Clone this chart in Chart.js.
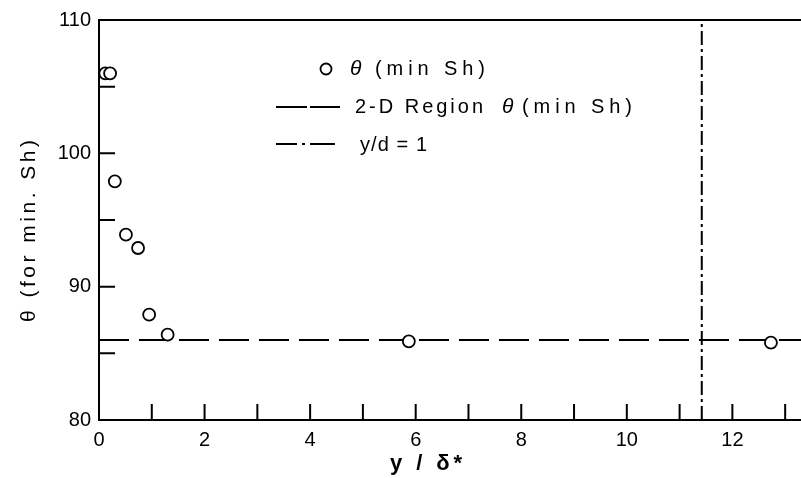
<!DOCTYPE html>
<html>
<head>
<meta charset="utf-8">
<script src="https://cdn.jsdelivr.net/npm/chart.js@4.4.1/dist/chart.umd.min.js"></script>
<style>
html, body { margin: 0; padding: 0; background: #fff; }
#wrap { width: 801px; height: 478px; }
</style>
</head>
<body>
<div id="wrap"><canvas id="theta-chart"></canvas></div>
<script>
// measured points: theta at minimum Sherwood number vs y/delta*
var pointX = [0.12, 0.21, 0.30, 0.51, 0.74, 0.95, 1.30, 5.87, 12.73];
var pointY = [106.0, 106.0, 97.9, 93.9, 92.9, 87.9, 86.4, 85.9, 85.8];

// 2-D region value and the y/d = 1 position
var region2dX = [0, 13.3];
var region2dY = [86, 86];
var ydOneX = [11.42, 11.42];
var ydOneY = [80, 110];

var xTickValues = [0, 1, 2, 3, 4, 5, 6, 7, 8, 9, 10, 11, 12, 13];
var yTickValues = [80, 85, 90, 95, 100, 105, 110];

var FONT = '"Liberation Sans", Arial, sans-serif';

function fitText(ctx, text, x, y, width) {
    ctx.letterSpacing = '0px';
    var w = ctx.measureText(text).width;
    var n = text.length > 1 ? text.length - 1 : 1;
    ctx.letterSpacing = ((width - w) / n) + 'px';
    ctx.fillText(text, x, y);
    ctx.letterSpacing = '0px';
}

var frame = {
    id: 'frame',
    afterDraw(chart) {
        var ctx = chart.ctx;
        var area = chart.chartArea;
        var xs = chart.scales.x, ys = chart.scales.y;
        ctx.save();
        ctx.strokeStyle = '#000';
        ctx.lineWidth = 2;
        ctx.setLineDash([]);

        // top border
        ctx.beginPath();
        ctx.moveTo(area.left, area.top);
        ctx.lineTo(chart.width, area.top);
        ctx.stroke();

        // inward tick marks
        ctx.beginPath();
        ys.ticks.forEach(t => {
            var p = ys.getPixelForValue(t.value);
            ctx.moveTo(area.left, p);
            ctx.lineTo(area.left + 16, p);
        });
        xs.ticks.forEach(t => {
            var p = xs.getPixelForValue(t.value);
            ctx.moveTo(p, area.bottom);
            ctx.lineTo(p, area.bottom - 16);
        });
        ctx.stroke();

        // axis titles
        ctx.fillStyle = '#000';
        ctx.textBaseline = 'middle';
        ctx.textAlign = 'left';
        ctx.font = 'bold 22px ' + FONT;
        fitText(ctx, 'y / δ*', 390, 464, 72);

        ctx.save();
        ctx.translate(29, 231);
        ctx.rotate(-Math.PI / 2);
        ctx.font = '21px ' + FONT;
        fitText(ctx, 'θ (for min. Sh)', -91, 0, 182);
        ctx.restore();

        // legend
        ctx.lineWidth = 1.8;
        ctx.beginPath();
        ctx.arc(326, 69, 5.5, 0, Math.PI * 2);
        ctx.stroke();
        ctx.font = 'italic 21px ' + FONT;
        ctx.fillText('θ', 350, 69);
        ctx.font = '20px ' + FONT;
        fitText(ctx, '(min Sh)', 375, 69, 110);

        ctx.lineWidth = 2;
        ctx.beginPath();
        ctx.moveTo(276, 107); ctx.lineTo(307, 107);
        ctx.moveTo(310, 107); ctx.lineTo(340, 107);
        ctx.stroke();
        ctx.font = '20px ' + FONT;
        fitText(ctx, '2-D Region', 355, 107, 128);
        ctx.font = 'italic 21px ' + FONT;
        ctx.fillText('θ', 502, 107);
        ctx.font = '20px ' + FONT;
        fitText(ctx, '(min Sh)', 522, 107, 110);

        ctx.beginPath();
        ctx.moveTo(276, 144); ctx.lineTo(297, 144);
        ctx.moveTo(302, 144); ctx.lineTo(305, 144);
        ctx.moveTo(310, 144); ctx.lineTo(335, 144);
        ctx.stroke();
        ctx.font = '20px ' + FONT;
        fitText(ctx, 'y/d = 1', 360, 145, 67);

        ctx.restore();
    }
};

var ctx = document.getElementById('theta-chart').getContext('2d');

var thetaChart = new Chart(ctx, {
    type: 'scatter',
    data: {
        datasets: [{
            label: 'θ (min Sh)',
            data: pointX.map((x, i) => ({ x: x, y: pointY[i] })),
            pointRadius: 6,
            pointBackgroundColor: '#fff',
            pointBorderColor: '#000',
            pointBorderWidth: 1.8,
            showLine: false
        }, {
            label: '2-D Region θ (min Sh)',
            data: region2dX.map((x, i) => ({ x: x, y: region2dY[i] })),
            showLine: true,
            borderColor: '#000',
            borderWidth: 2,
            borderDash: [30, 10],
            pointRadius: 0
        }, {
            label: 'y/d = 1',
            data: ydOneX.map((x, i) => ({ x: x, y: ydOneY[i] })),
            showLine: true,
            borderColor: '#000',
            borderWidth: 2,
            borderDash: [14, 4, 3, 4],
            pointRadius: 0
        }]
    },
    options: {
        responsive: true,
        maintainAspectRatio: false,
        animation: false,
        layout: {
            autoPadding: false,
            padding: { top: 20, right: 0, left: 0, bottom: 0 }
        },
        plugins: {
            legend: { display: false },
            tooltip: { enabled: false }
        },
        scales: {
            x: {
                type: 'linear',
                min: 0,
                max: 13.3,
                afterBuildTicks: scale => {
                    scale.ticks = xTickValues.map(v => ({ value: v }));
                },
                afterFit: scale => {
                    scale.height = 58;
                    scale.paddingLeft = 0;
                    scale.paddingRight = 0;
                },
                grid: { display: false },
                border: { display: true, color: '#000', width: 2 },
                ticks: {
                    color: '#000',
                    padding: 0,
                    maxRotation: 0,
                    autoSkip: false,
                    font: { family: FONT, size: 20 },
                    callback: v => (v % 2 === 0 ? v : '')
                }
            },
            y: {
                min: 80,
                max: 110,
                afterBuildTicks: scale => {
                    scale.ticks = yTickValues.map(v => ({ value: v }));
                },
                afterFit: scale => { scale.width = 99; },
                grid: { display: false },
                border: { display: true, color: '#000', width: 2 },
                ticks: {
                    color: '#000',
                    padding: 0,
                    autoSkip: false,
                    font: { family: FONT, size: 20 },
                    callback: v => (v % 10 === 0 ? v : '')
                }
            }
        }
    },
    plugins: [frame]
});
</script>
</body>
</html>
